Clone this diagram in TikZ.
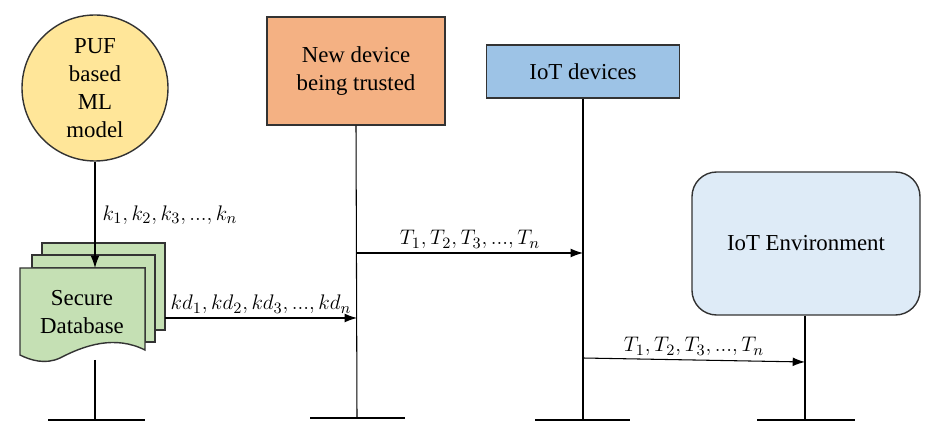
\documentclass[tikz,border=0pt]{standalone}
\usepackage{fontspec}
\setmainfont{Liberation Serif}
\usetikzlibrary{positioning,arrows.meta}
\definecolor{pufyellow}{HTML}{FFE699}
\definecolor{dbgreen}{HTML}{C5E0B4}
\definecolor{devorange}{HTML}{F4B183}
\definecolor{iotblue}{HTML}{9DC3E6}
\definecolor{envblue}{HTML}{DEEBF7}
\tikzset{
  box/.style={draw=black!80, thick, align=center, font=\fontsize{13}{16}\selectfont},
  msg/.style={-{Latex[length=7pt,width=5pt]}, semithick},
  life/.style={semithick},
  lbl/.style={font=\fontsize{13}{15}\selectfont\itshape, inner sep=2pt},
  page/.style={draw=black!80, thick, fill=dbgreen}
}
\begin{document}
\begin{tikzpicture}[x=0.02cm,y=-0.02cm]
	\useasboundingbox (0,0) rectangle (940,435);

	%participants
	\node[box, circle, fill=pufyellow, minimum size=146*0.02cm, inner sep=0pt] (puf) at (95,88) {PUF\\based\\ML\\model};
	\node[box, fill=devorange, minimum width=178*0.02cm, minimum height=108*0.02cm] (dev) at (356,71) {New device\\being trusted};
	\node[box, fill=iotblue, minimum width=193*0.02cm, minimum height=53*0.02cm] (iot) at (583,71.5) {IoT devices};
	\node[box, fill=envblue, rounded corners=14pt, minimum width=228*0.02cm, minimum height=143*0.02cm] (env) at (806,243.5) {IoT Environment};

	%secure database
	\draw[page] (42,243) -- (165,243) -- (165,330) -- (155,330) -- (155,255) -- (42,255) -- cycle;
	\draw[page] (32,255) -- (155,255) -- (155,342) -- (145,342) -- (145,268) -- (32,268) -- cycle;
	\draw[page] (20,268) -- (145,268) -- (145,350) .. controls (115,335) and (85,345) .. (60,358) .. controls (45,365) and (30,360) .. (20,355) -- cycle;
	\node[align=center, font=\fontsize{13}{16}\selectfont] (db) at (82,312) {Secure\\Database};
	\coordinate (dbtop) at (95,268);
	\coordinate (dbbot) at (95,360);
	\coordinate (dbout) at (165,318);

	%lifelines
	\coordinate (dbend) at (95,420);
	\coordinate (devend) at (357,418);
	\coordinate (iotend) at (583,420);
	\coordinate (envend) at (805,420);
	\draw[life] (dbbot) -- (dbend);
	\draw[life] (48,420) -- (145,420);
	\draw[life] (dev.south) -- (devend);
	\draw[life] (310,418) -- (405,418);
	\draw[life] (iot.south) -- (iotend);
	\draw[life] (535,420) -- (630,420);
	\draw[life] (env.south -| envend) -- (envend);
	\draw[life] (757,420) -- (855,420);

	%messages
	\draw[msg] (puf.south) -- (dbtop) node[lbl, midway, right=2pt] {$k_1, k_2, k_3, ..., k_n$};
	\coordinate (devin) at (357,318);
	\draw[msg] (dbout) -- (devin) node[lbl, midway, above] {$kd_1, kd_2, kd_3, ..., kd_n$};
	\coordinate (devout) at (357,253);
	\coordinate (iotin) at (583,253);
	\draw[msg] (devout) -- (iotin) node[lbl, midway, above] {$T_1, T_2, T_3, ..., T_n$};
	\coordinate (iotout) at (583,358);
	\coordinate (envin) at (805,362);
	\draw[msg] (iotout) -- (envin) node[lbl, midway, above] {$T_1, T_2, T_3, ..., T_n$};

\end{tikzpicture}
\end{document}
